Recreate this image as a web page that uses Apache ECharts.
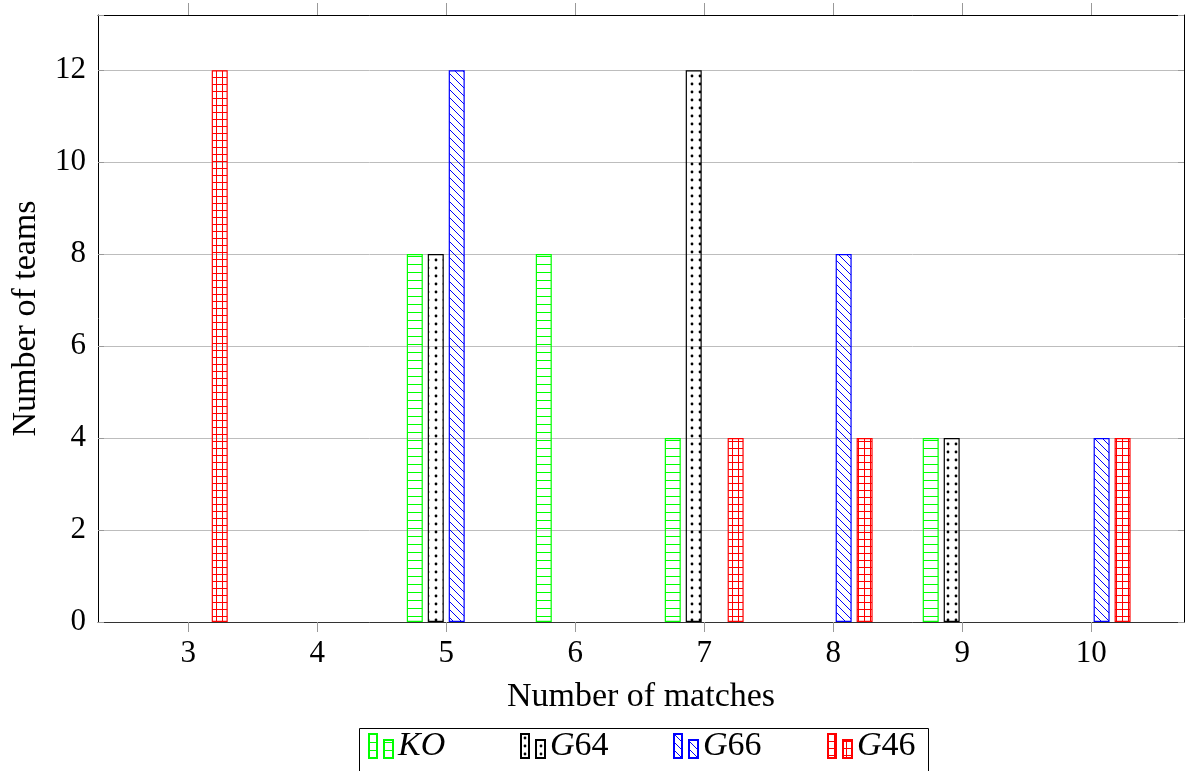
<!DOCTYPE html>
<html>
<head>
<meta charset="utf-8">
<script src="https://cdn.jsdelivr.net/npm/echarts@6/dist/echarts.min.js"></script>
<style>html,body{margin:0;padding:0;background:#fff}#c{width:1185px;height:771px}</style>
</head>
<body>
<div id="c"></div>
<script>
// ---- data ----
const matchTicks = [3, 4, 5, 6, 7, 8, 9, 10];
const yTicks = [0, 2, 4, 6, 8, 10, 12];
const seriesNames = ['KO', 'G64', 'G66', 'G46'];
const koValues  = [[5, 8], [6, 8], [7, 4], [9, 4]];
const g64Values = [[5, 8], [7, 12], [9, 4]];
const g66Values = [[5, 12], [8, 8], [10, 4]];
const g46Values = [[3, 12], [7, 4], [8, 4], [10, 4]];

const FONT = 'Liberation Serif';
const TITLE_SIZE = 34;
const LEG_SIZE = 34;
const TICK_SIZE = 31;

function pattern(kind, color) {
  const c = document.createElement('canvas');
  const ctx = c.getContext('2d');
  if (kind === 'hlines') {
    c.width = 8; c.height = 8;
    ctx.fillStyle = color; ctx.fillRect(0, 0, 8, 1);
  } else if (kind === 'dots') {
    c.width = 8; c.height = 8;
    ctx.fillStyle = color; ctx.beginPath(); ctx.arc(4, 4, 1.4, 0, Math.PI * 2); ctx.fill();
  } else if (kind === 'nwlines') {
    c.width = 8; c.height = 8;
    ctx.strokeStyle = color; ctx.lineWidth = 1;
    ctx.beginPath();
    ctx.moveTo(-1, -1); ctx.lineTo(9, 9);
    ctx.moveTo(-1, 7); ctx.lineTo(1, 9);
    ctx.moveTo(7, -1); ctx.lineTo(9, 1);
    ctx.stroke();
  } else if (kind === 'grid') {
    c.width = 6; c.height = 7;
    ctx.fillStyle = color; ctx.fillRect(0, 0, 6, 1); ctx.fillRect(0, 0, 1, 7);
  }
  return { image: c, repeat: 'repeat' };
}

const styles = [
  { kind: 'hlines', color: '#00ff00' },
  { kind: 'dots', color: '#000000' },
  { kind: 'nwlines', color: '#0000ff' },
  { kind: 'grid', color: '#ff0000' }
];
const allData = [koValues, g64Values, g66Values, g46Values];

const legendIcon = 'path://M0,0 L8,0 L8,24 L0,24 Z M15,6 L24,6 L24,24 L15,24 Z';

const series = seriesNames.map((name, i) => ({
  name: name,
  type: 'bar',
  data: allData[i],
  barWidth: 16,
  barGap: '31%',
  itemStyle: {
    color: pattern(styles[i].kind, styles[i].color),
    borderColor: styles[i].color,
    borderWidth: 1.2
  },
  emphasis: { disabled: true }
}));

function legendFmt(name) {
  if (name === 'KO') return '{i|KO}';
  return '{i|G}{n|' + name.slice(1) + '}';
}
const rich = {
  i: { fontFamily: FONT, fontSize: LEG_SIZE, fontStyle: 'italic', color: '#000' },
  n: { fontFamily: FONT, fontSize: LEG_SIZE, color: '#000' }
};
const legendLefts = [368, 520, 673, 827];
const legends = seriesNames.map((name, i) => ({
  left: legendLefts[i], top: 729,
  padding: 0,
  itemWidth: 24, itemHeight: 24,
  itemGap: 0,
  icon: legendIcon,
  data: [name],
  formatter: legendFmt,
  selectedMode: false,
  textStyle: { fontFamily: FONT, fontSize: LEG_SIZE, color: '#000', rich: rich }
}));

const chart = echarts.init(document.getElementById('c'), null, { renderer: 'canvas' });
chart.setOption({
  animation: false,
  backgroundColor: '#fff',
  grid: { left: 98, right: 1, top: 15, bottom: 149 },
  legend: legends,
  graphic: [{
    type: 'rect', silent: true,
    shape: { x: 359.5, y: 728.5, width: 569, height: 60 },
    style: { fill: 'none', stroke: '#000', lineWidth: 1 }
  }],
  xAxis: [{
    type: 'value', min: 2.3, max: 10.72, position: 'bottom',
    name: 'Number of matches', nameLocation: 'middle', nameGap: 58,
    nameTextStyle: { fontFamily: FONT, fontSize: TITLE_SIZE, color: '#000' },
    axisLine: { show: true, lineStyle: { color: '#333', width: 1 } },
    axisTick: { show: true, customValues: matchTicks, length: 10, lineStyle: { color: '#999' } },
    axisLabel: { customValues: matchTicks, fontFamily: FONT, fontSize: TICK_SIZE, color: '#000', margin: 16 },
    splitLine: { show: false }
  }, {
    type: 'value', min: 2.3, max: 10.72, position: 'top',
    axisLine: { show: true, onZero: false, lineStyle: { color: '#000', width: 1 } },
    axisTick: { show: true, customValues: matchTicks, length: 12, lineStyle: { color: '#999' } },
    axisLabel: { show: false },
    splitLine: { show: false }
  }],
  yAxis: [{
    type: 'value', min: 0, max: 13.2, interval: 2, position: 'left',
    name: 'Number of teams', nameLocation: 'middle', nameGap: 55, nameRotate: 90,
    nameTextStyle: { fontFamily: FONT, fontSize: TITLE_SIZE, color: '#000' },
    axisLine: { show: true, lineStyle: { color: '#000', width: 1 } },
    axisTick: { show: true, inside: true, length: 6, lineStyle: { color: '#999' } },
    axisLabel: { fontFamily: FONT, fontSize: TICK_SIZE, color: '#000', margin: 12,
      formatter: v => (yTicks.indexOf(v) >= 0 ? String(v) : '') },
    splitLine: { show: true, lineStyle: { color: '#bdbdbd', width: 1 } }
  }, {
    type: 'value', min: 0, max: 13.2, interval: 2, position: 'right',
    axisLine: { show: true, onZero: false, lineStyle: { color: '#000', width: 1 } },
    axisTick: { show: true, inside: true, length: 6, lineStyle: { color: '#999' } },
    axisLabel: { show: false },
    splitLine: { show: false }
  }],
  series: series
});
</script>
</body>
</html>
